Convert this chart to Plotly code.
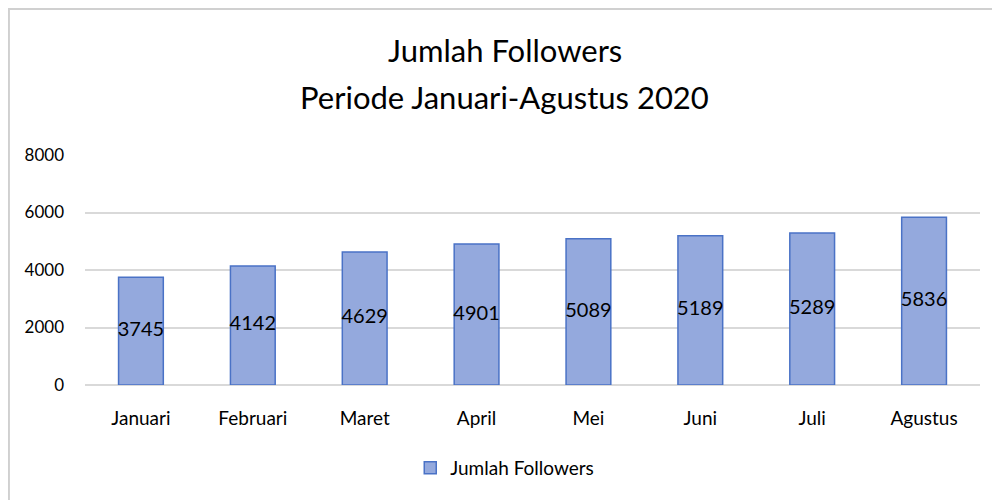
import plotly.graph_objects as go

# data
months = ['Januari', 'Februari', 'Maret', 'April', 'Mei', 'Juni', 'Juli', 'Agustus']
followers = [3745, 4142, 4629, 4901, 5089, 5189, 5289, 5836]
series_name = 'Jumlah Followers'
title_lines = ['Jumlah Followers', 'Periode Januari-Agustus 2020']
y_ticks = [0, 2000, 4000, 6000, 8000]

FONT = 'Lato'

fig = go.Figure()
fig.add_bar(
    x=months, y=followers, name=series_name,
    marker=dict(color='#94a9dd', line=dict(color='#4a72c6', width=1.5)),
    width=0.4, showlegend=True, hoverinfo='x+y',
)
# value labels at mid-bar; a text trace so they are not shrunk to the bar width
fig.add_scatter(
    x=months, y=[v / 2 for v in followers], text=[str(v) for v in followers],
    mode='text', textposition='middle center', showlegend=False, hoverinfo='skip',
    textfont=dict(size=20, color='black', family=FONT),
)

# two title lines as separate annotations to get the wider line spacing
for txt, ty in zip(title_lines, [1.457, 1.252]):
    fig.add_annotation(text=txt, xref='paper', yref='paper', x=0.469, y=ty,
                       xanchor='center', yanchor='middle', showarrow=False,
                       font=dict(size=31, family=FONT, color='black'))

# the page body adds an 8px offset, so the figure is 992x492
fig.update_layout(
    width=992, height=492,
    margin=dict(l=77, r=20, t=147, b=115),
    paper_bgcolor='white', plot_bgcolor='white',
    font=dict(family=FONT, color='black', size=17),
    legend=dict(orientation='h', x=0.469, xanchor='center', y=-0.36, yanchor='middle',
                font=dict(size=19)),
    # outer chart frame
    shapes=[dict(type='rect', xref='paper', yref='paper',
                 x0=-0.085, x1=1.05, y0=-0.6, y1=1.635,
                 line=dict(color='#d0d0d0', width=2), layer='below')],
)
fig.update_xaxes(showgrid=False, showline=False, ticks='', tickfont=dict(size=19),
                 ticklabelstandoff=20)
fig.update_yaxes(range=[0, 8000], tickvals=y_ticks, showgrid=True,
                 gridcolor='#d9d9d9', gridwidth=2, zeroline=True,
                 zerolinecolor='#d9d9d9', zerolinewidth=2, ticks='',
                 ticklabelstandoff=20, tickfont=dict(size=17))

fig.write_html('out.html')
